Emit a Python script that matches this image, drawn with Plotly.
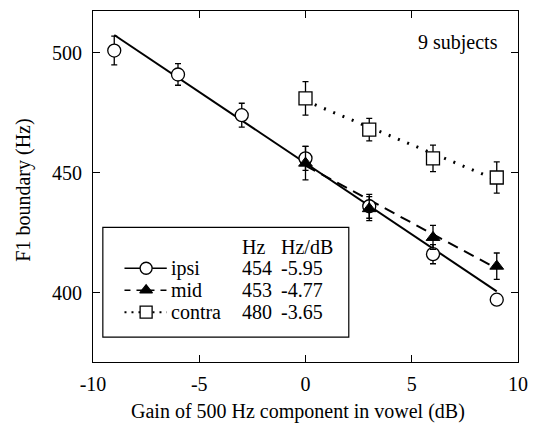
import plotly.graph_objects as go

# ---- data ----
gain = [-9, -6, -3, 0, 3, 6, 9]
ipsi_y = [501, 491, 474, 456, 436, 416, 397]
ipsi_err = [6, 4.5, 5, 5, 5, 4, 2]

mid_x = [0, 3, 6, 9]
mid_y = [454, 435, 423, 411]
mid_err = [7, 5, 5, 5.5]

contra_x = [0, 3, 6, 9]
contra_y = [481, 468, 456, 448]
contra_err = [7, 4.7, 5.5, 6.5]

fit_ipsi_x = [-9, 9]
fit_ipsi_y = [507.5, 400.5]
fit_mid_x = [0, 9]
fit_mid_y = [453, 410]
fit_contra_x = [0, 9]
fit_contra_y = [480, 447]

legend_names = ["ipsi", "mid", "contra"]
legend_hz = ["454", "453", "480"]
legend_slope = ["-5.95", "-4.77", "-3.65"]
header_hz = "Hz"
header_slope = "Hz/dB"

x_ticks = [-10, -5, 0, 5, 10]
x_ticktext = ["-10", "-5", "0", "5", "10"]
y_ticks = [400, 450, 500]
y_ticktext = ["400", "450", "500"]

FONT = "Liberation Serif"
FS = 20

# plot area in pixels
L, R, T, B = 93, 525, 10, 362
W, H = 538, 435

fig = go.Figure()

# fit lines
fig.add_trace(go.Scatter(x=fit_ipsi_x, y=fit_ipsi_y, mode="lines",
                         line=dict(color="black", width=2)))
fig.add_trace(go.Scatter(x=fit_mid_x, y=fit_mid_y, mode="lines",
                         line=dict(color="black", width=2, dash="11px,7px")))
fig.add_trace(go.Scatter(x=fit_contra_x, y=fit_contra_y, mode="lines",
                         line=dict(color="black", width=3, dash="2px,8px")))

eb = dict(type="data", thickness=1.3, width=3, color="black")
fig.add_trace(go.Scatter(x=gain, y=ipsi_y, mode="markers",
                         error_y=dict(array=ipsi_err, **eb),
                         marker=dict(symbol="circle", size=13, color="white",
                                     line=dict(color="black", width=1.3))))
fig.add_trace(go.Scatter(x=mid_x, y=mid_y, mode="markers",
                         error_y=dict(array=mid_err, **eb),
                         marker=dict(symbol="triangle-up", size=12, color="black",
                                     line=dict(color="black", width=1))))
fig.add_trace(go.Scatter(x=contra_x, y=contra_y, mode="markers",
                         error_y=dict(array=contra_err, **eb),
                         marker=dict(symbol="square", size=13, color="white",
                                     line=dict(color="black", width=1.3))))

# ---- legend drawn on a pixel overlay axis (x2/y2) ----
rows_y = [268, 290, 312]
samp_x0, samp_mid, samp_x1 = 125, 147, 168
styles = [
    dict(line=dict(color="black", width=1.5), sym="circle", fill="white", size=12),
    dict(line=dict(color="black", width=1.5, dash="6px,6px"), sym="triangle-up", fill="black", size=11),
    dict(line=dict(color="black", width=2, dash="2px,5px"), sym="square", fill="white", size=12),
]
for yy, st in zip(rows_y, styles):
    fig.add_trace(go.Scatter(x=[samp_x0, samp_x1], y=[yy, yy], mode="lines",
                             line=st["line"], xaxis="x2", yaxis="y2"))
    fig.add_trace(go.Scatter(x=[samp_mid], y=[yy], mode="markers", xaxis="x2", yaxis="y2",
                             marker=dict(symbol=st["sym"], size=st["size"], color=st["fill"],
                                         line=dict(color="black", width=1.3))))

annotations = []
def txt(x, y, s, anchor="left", angle=0, pix=True):
    if pix:
        xr, yr = "x2", "y2"
    else:
        xr, yr = "paper", "paper"
        x = (x - L) / (R - L)
        y = (B - y) / (B - T)
    annotations.append(dict(x=x, y=y, xref=xr, yref=yr, text=s, showarrow=False,
                            xanchor=anchor, yanchor="middle", textangle=angle,
                            font=dict(family=FONT, size=FS, color="black")))

txt(242, 247, header_hz)
txt(282, 247, header_slope)
for yy, n, hz, sl in zip(rows_y, legend_names, legend_hz, legend_slope):
    txt(170, yy, n)
    txt(242, yy, hz)
    txt(282, yy, sl)

txt(507, 42, "9 subjects", anchor="right")
txt(301, 412, "Gain of 500 Hz component in vowel (dB)", anchor="center", pix=False)
txt(22, 190, "F1 boundary (Hz)", anchor="center", angle=-90, pix=False)

shapes = [dict(type="rect", xref="x2", yref="y2", x0=103, x1=353, y0=227, y1=337,
               line=dict(color="black", width=1.2), fillcolor="rgba(0,0,0,0)")]

axis_common = dict(showgrid=False, zeroline=False, showline=True, linecolor="black",
                   linewidth=1.2, mirror="ticks", ticks="inside", ticklen=7,
                   tickwidth=1.2, tickcolor="black",
                   tickfont=dict(family=FONT, size=FS, color="black"))

fig.update_layout(
    width=W, height=H,
    margin=dict(l=L, r=W - R, t=T, b=H - B),
    paper_bgcolor="white", plot_bgcolor="white",
    showlegend=False,
    xaxis=dict(range=[-10, 10], tickvals=x_ticks, ticktext=x_ticktext,
               ticklabelstandoff=4, **axis_common),
    yaxis=dict(range=[371, 517.5], tickvals=y_ticks, ticktext=y_ticktext,
               ticklabelstandoff=6, **axis_common),
    xaxis2=dict(range=[L, R], overlaying="x", visible=False),
    yaxis2=dict(range=[B, T], overlaying="y", visible=False),
    annotations=annotations,
    shapes=shapes,
)

fig.write_html("out.html", config={"displayModeBar": False},
               post_script="document.body.style.margin='0';")
